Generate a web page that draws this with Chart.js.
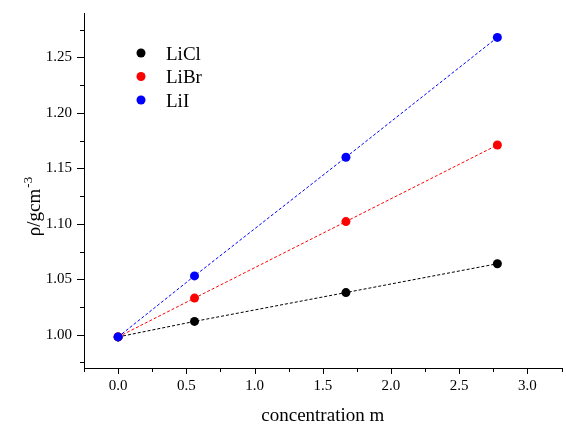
<!DOCTYPE html>
<html>
<head>
<meta charset="utf-8">
<script src="https://cdn.jsdelivr.net/npm/chart.js@4/dist/chart.umd.min.js"></script>
<style>
  html, body { margin: 0; padding: 0; background: #fff; }
  #wrap { width: 566px; height: 425px; position: relative; }
</style>
</head>
<body>
<div id="wrap"><canvas id="densityChart"></canvas></div>
<script>
// Data
const concentration = [0, 0.56, 1.67, 2.78];
const liclDensity = [0.998, 1.012, 1.038, 1.064];
const librDensity = [0.998, 1.033, 1.102, 1.171];
const liiDensity = [0.998, 1.053, 1.160, 1.268];
const seriesLabels = ['LiCl', 'LiBr', 'LiI'];
const seriesColors = ['#000000', '#ff0000', '#0000ff'];
const xTickValues = [0, 0.5, 1, 1.5, 2, 2.5, 3];
const yTickValues = [1.00, 1.05, 1.10, 1.15, 1.20, 1.25];

const serif = "'Liberation Serif', 'Times New Roman', serif";

function toPoints(ys) {
    return concentration.map((x, i) => ({ x: x, y: ys[i] }));
}

// order: later series drawn on top (LiI on top at the origin)
function makeDataset(label, ys, color, order) {
    return {
        label: label,
        data: toPoints(ys),
        order: order,
        showLine: true,
        borderColor: color,
        backgroundColor: color,
        borderWidth: 1,
        borderDash: [3, 2],
        pointRadius: 4.5,
        pointHoverRadius: 4.5,
        pointBorderWidth: 0
    };
}

// tick marks, legend and axis titles
const decorations = {
    id: 'decorations',
    afterDraw(chart) {
        const ctx = chart.ctx;
        const xs = chart.scales.x;
        const ys = chart.scales.y;
        const area = chart.chartArea;
        ctx.save();
        ctx.strokeStyle = '#000';
        ctx.lineWidth = 1;

        // x ticks (major + minor)
        for (let i = -1; i <= 13; i++) {
            const v = i * 0.25;
            const px = Math.round(xs.getPixelForValue(v)) + 0.5;
            const len = (i % 2 === 0) ? 6 : 4;
            ctx.beginPath();
            ctx.moveTo(px, area.bottom);
            ctx.lineTo(px, area.bottom + len);
            ctx.stroke();
        }
        // y ticks (major + minor)
        for (let i = -1; i <= 11; i++) {
            const v = 1 + i * 0.025;
            const py = Math.round(ys.getPixelForValue(v)) + 0.5;
            const len = (i % 2 === 0) ? 7 : 4;
            ctx.beginPath();
            ctx.moveTo(area.left, py);
            ctx.lineTo(area.left - len, py);
            ctx.stroke();
        }

        // legend
        ctx.font = '19px ' + serif;
        ctx.textBaseline = 'alphabetic';
        ctx.textAlign = 'left';
        chart.data.datasets.forEach((ds, i) => {
            const y = 53 + i * 23.5;
            ctx.fillStyle = ds.backgroundColor;
            ctx.beginPath();
            ctx.arc(141, y, 4.5, 0, Math.PI * 2);
            ctx.fill();
            ctx.fillStyle = '#000';
            ctx.fillText(ds.label, 166, y + 6.5);
        });

        // x title
        ctx.textAlign = 'center';
        ctx.fillText('concentration m', (area.left + area.right) / 2, 421);

        // y title with superscript
        ctx.translate(40, 207);
        ctx.rotate(-Math.PI / 2);
        const main = 'ρ/gcm';
        const sup = '-3';
        ctx.font = '19px ' + serif;
        const w1 = ctx.measureText(main).width;
        ctx.font = '13px ' + serif;
        const w2 = ctx.measureText(sup).width;
        const start = -(w1 + w2) / 2;
        ctx.textAlign = 'left';
        ctx.font = '19px ' + serif;
        ctx.fillText(main, start, 0);
        ctx.font = '13px ' + serif;
        ctx.fillText(sup, start + w1 + 1, -8);
        ctx.restore();
    }
};

new Chart(document.getElementById('densityChart'), {
    type: 'scatter',
    data: {
        datasets: [
            makeDataset(seriesLabels[0], liclDensity, seriesColors[0], 3),
            makeDataset(seriesLabels[1], librDensity, seriesColors[1], 2),
            makeDataset(seriesLabels[2], liiDensity, seriesColors[2], 1)
        ]
    },
    options: {
        responsive: true,
        maintainAspectRatio: false,
        animation: false,
        layout: { padding: { top: 13, right: 3, left: 0, bottom: 0 } },
        plugins: {
            legend: { display: false },
            tooltip: { enabled: false }
        },
        scales: {
            x: {
                type: 'linear',
                min: -0.25,
                max: 3.25,
                afterBuildTicks: s => { s.ticks = xTickValues.map(v => ({ value: v })); },
                afterFit: s => { s.height = 57; s.paddingLeft = 0; s.paddingRight = 0; },
                grid: { display: false, drawTicks: false },
                border: { display: true, color: '#000', width: 1 },
                ticks: {
                    padding: 9,
                    color: '#000',
                    maxRotation: 0,
                    autoSkip: false,
                    font: { family: serif, size: 15 },
                    callback: v => v.toFixed(1)
                }
            },
            y: {
                type: 'linear',
                min: 0.97,
                max: 1.29,
                afterBuildTicks: s => { s.ticks = yTickValues.map(v => ({ value: v })); },
                afterFit: s => { s.width = 84; s.paddingTop = 0; s.paddingBottom = 0; },
                grid: { display: false, drawTicks: false },
                border: { display: true, color: '#000', width: 1 },
                ticks: {
                    padding: 12,
                    color: '#000',
                    autoSkip: false,
                    font: { family: serif, size: 15 },
                    callback: v => v.toFixed(2)
                }
            }
        }
    },
    plugins: [decorations]
});
</script>
</body>
</html>
